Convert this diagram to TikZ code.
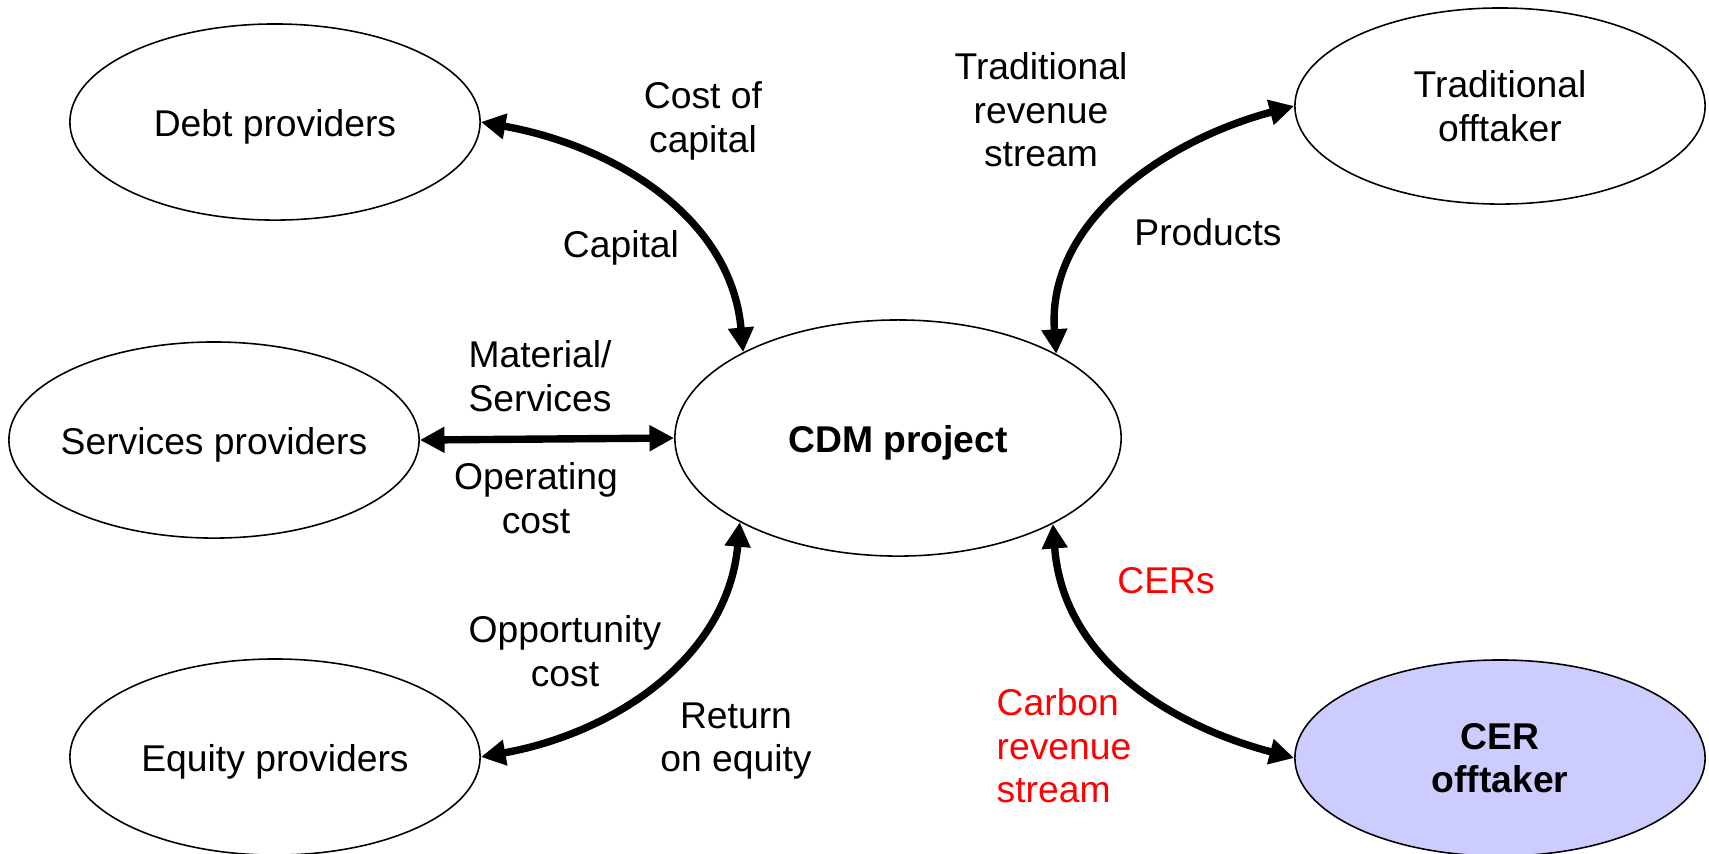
\documentclass[tikz,border=0pt]{standalone}
\usepackage{fontspec}
\setmainfont{Liberation Sans}
\usetikzlibrary{shapes.geometric,arrows.meta}
\definecolor{cerfill}{RGB}{204,204,255}
\definecolor{labred}{RGB}{255,0,0}
\newcommand{\ctext}[1]{\makebox[0pt][c]{#1}}
\begin{document}
\begin{tikzpicture}[x=0.01cm,y=-0.01cm,
  every node/.style={font=\fontsize{10.6}{12.4}\selectfont},
  party/.style={draw=black, line width=0.45pt, ellipse, inner sep=0pt,
    minimum width=4.1cm, minimum height=1.96cm, align=center},
  oneline/.style={text height=1em, text depth=0.2em},
  lbl/.style={align=center, inner sep=0pt},
  flow/.style={line width=2.1pt,
    {Triangle[length=7pt,width=7pt]}-{Triangle[length=7pt,width=7pt]}}
]
\useasboundingbox (0,0) rectangle (1709,853);
% parties
\node[party, oneline] (debt) at (275,122) {\ctext{Debt providers}};
\node[party, oneline] (serv) at (214,440) {\ctext{Services providers}};
\node[party, oneline] (equity) at (275,757) {\ctext{Equity providers}};
\node[party, oneline, minimum width=4.46cm, minimum height=2.36cm, font=\fontsize{10.6}{12.4}\selectfont\bfseries] (cdm) at (898,438) {\ctext{CDM project}};
\node[party] (trad) at (1500,106) {Traditional\\offtaker};
\node[party, fill=cerfill, font=\fontsize{10.6}{12.4}\selectfont\bfseries] (cer) at (1500,758) {CER\\offtaker};
% flows
\draw[flow] (debt.east) .. controls +(134,24) and +(-12,-135) .. (cdm.151.4);
\draw[flow] (serv.east) -- (cdm.west);
\draw[flow] (cdm.208.6) .. controls +(-12,135) and +(134,-24) .. (equity.east);
\draw[flow] (cdm.28.6) .. controls +(-10,-133) and +(-128,34) .. (trad.west);
\draw[flow] (cdm.331.4) .. controls +(10,133) and +(-128,-34) .. (cer.west);
% labels
\node[lbl] (l1) at (703,121) {Cost of\\capital};
\node[lbl] (l2) at (621,248) {Capital};
\node[lbl] (l3) at (1041,110) {Traditional\\revenue\\stream};
\node[lbl] (l4) at (1208,232) {Products};
\node[lbl] (l5) at (540,376) {Material/\\Services};
\node[lbl] (l6) at (536,498) {Operating\\cost};
\node[lbl] (l7) at (565,651) {Opportunity\\cost};
\node[lbl] (l8) at (736,741) {Return\\on equity};
\node[lbl, text=labred] (l9) at (1166,581) {CERs};
\node[lbl, text=labred, align=left, anchor=west] (l10) at (996,746) {Carbon\\revenue\\stream};
\end{tikzpicture}
\end{document}
